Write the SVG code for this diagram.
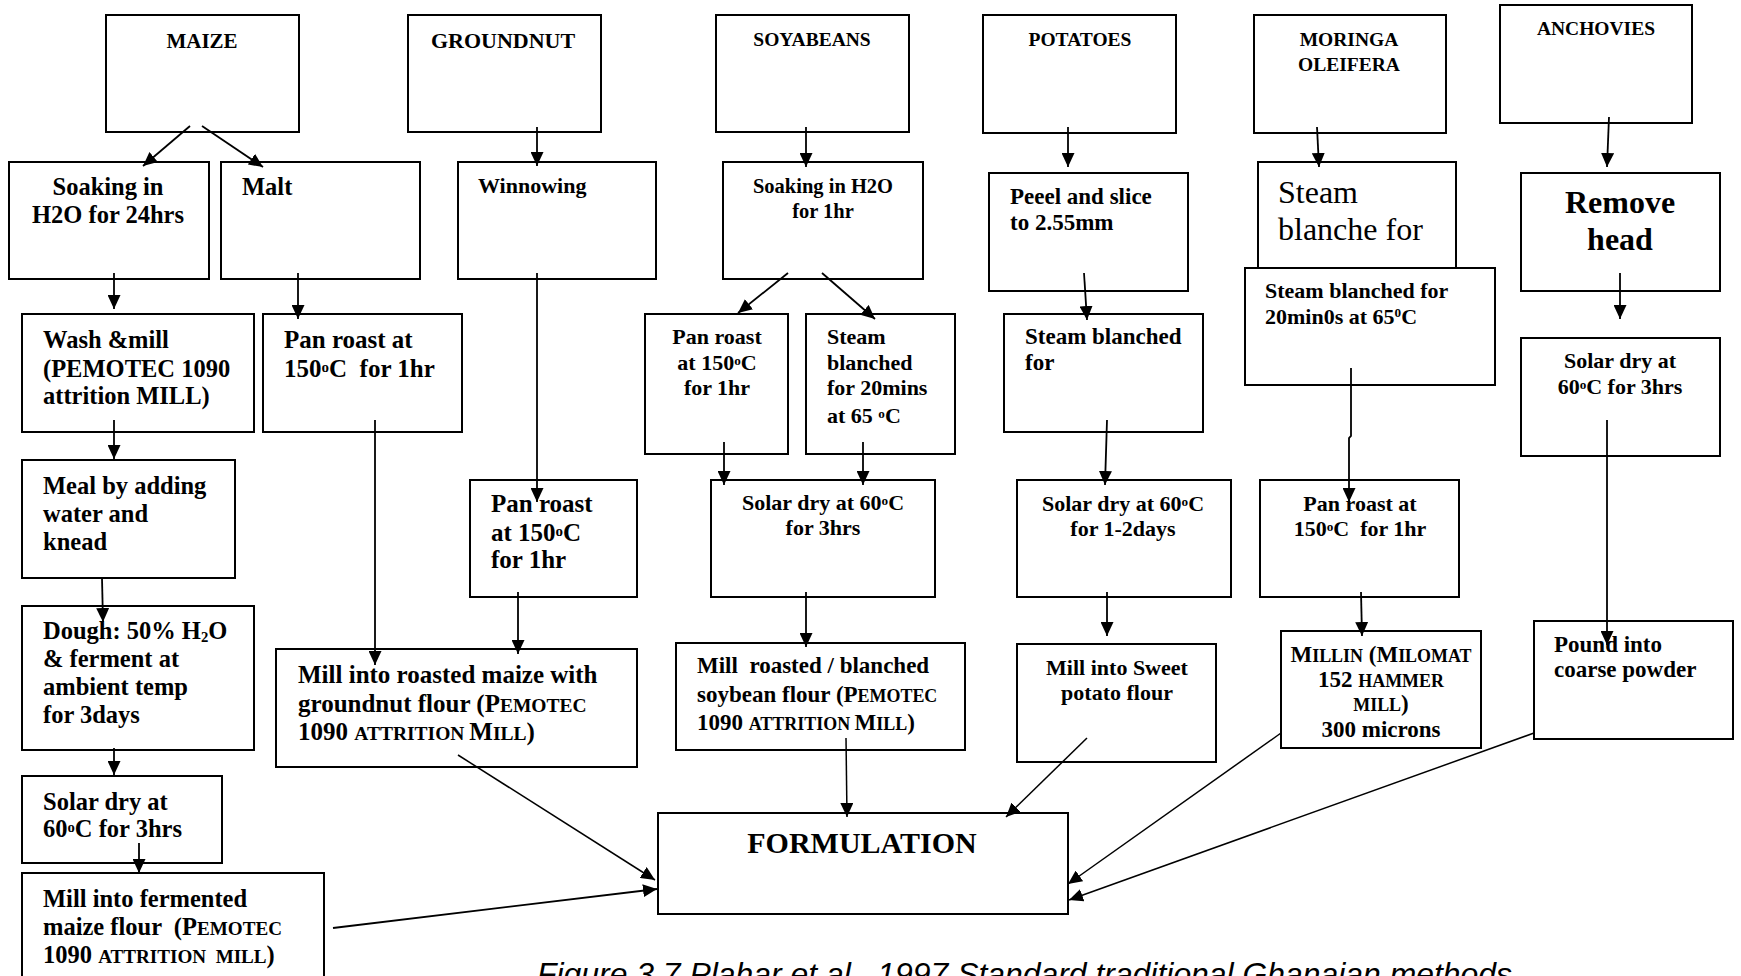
<svg xmlns="http://www.w3.org/2000/svg" width="1741" height="976" viewBox="0 0 1741 976">
  <style>
    .b { fill: #fff; stroke: #000; stroke-width: 2; }
    text { font-family: "Liberation Serif", "DejaVu Serif", serif; font-weight: bold; fill: #000; }
    .c { text-anchor: middle; }
    .r { font-weight: normal; }
    .s19 { font-size: 19.5px; }
    .s20 { font-size: 20.5px; }
    .s21 { font-size: 21px; }
    .s22 { font-size: 22px; }
    .s23 { font-size: 23px; }
    .s24 { font-size: 24.5px; }
    .s25 { font-size: 25px; }
    .s30 { font-size: 30px; }
    .s32 { font-size: 32px; }
    .sup { font-size: 0.6em; }
    .sc { font-size: 0.78em; }
    .cap { font-family: "Liberation Sans", Arial, sans-serif; font-weight: normal; font-style: italic; font-size: 32px; }
    #connectors line, #connectors polyline { stroke: #000; stroke-width: 1.8; fill: none; marker-end: url(#ah); }
  </style>
  <defs>
    <marker id="ah" viewBox="0 0 14 13" refX="14" refY="6.5" markerWidth="14" markerHeight="13" markerUnits="userSpaceOnUse" orient="auto">
      <path d="M0,0 L14,6.5 L0,13 z" fill="#000"/>
    </marker>
  </defs>

  <rect width="1741" height="976" fill="#fff"/>

  <!-- Maize chain -->
  <g id="maize">
    <rect class="b" x="106" y="15" width="193" height="117"/>
    <text class="s21 c" x="202" y="48">MAIZE</text>
  </g>
  <g id="maize-soak">
    <rect class="b" x="9" y="162" width="200" height="117"/>
    <text class="s24 c" x="108" y="195">Soaking in</text>
    <text class="s24 c" x="108" y="223">H2O for 24hrs</text>
  </g>
  <g id="maize-malt">
    <rect class="b" x="221" y="162" width="199" height="117"/>
    <text class="s24" x="242" y="195">Malt</text>
  </g>
  <g id="maize-wash">
    <rect class="b" x="22" y="314" width="232" height="118"/>
    <text class="s24" x="43" y="348">Wash &amp;mill</text>
    <text class="s24" x="43" y="377">(PEMOTEC 1090</text>
    <text class="s24" x="43" y="404">attrition MILL)</text>
  </g>
  <g id="maize-roast">
    <rect class="b" x="263" y="314" width="199" height="118"/>
    <text class="s25" x="284" y="348">Pan roast at</text>
    <text class="s25" x="284" y="377" xml:space="preserve">150<tspan class="sup" dy="-5">o</tspan><tspan dy="5">C  for 1hr</tspan></text>
  </g>
  <g id="maize-meal">
    <rect class="b" x="22" y="460" width="213" height="118"/>
    <text class="s24" x="43" y="494">Meal by adding</text>
    <text class="s24" x="43" y="522">water and</text>
    <text class="s24" x="43" y="550">knead</text>
  </g>
  <g id="maize-dough">
    <rect class="b" x="22" y="606" width="232" height="144"/>
    <text class="s24" x="43" y="639">Dough: 50% H<tspan class="sup" dy="3">2</tspan><tspan dy="-3">O</tspan></text>
    <text class="s24" x="43" y="667">&amp; ferment at</text>
    <text class="s24" x="43" y="695">ambient temp</text>
    <text class="s24" x="43" y="723">for 3days</text>
  </g>
  <g id="maize-dry">
    <rect class="b" x="22" y="776" width="200" height="87"/>
    <text class="s24" x="43" y="810">Solar dry at</text>
    <text class="s24" x="43" y="837">60<tspan class="sup" dy="-5">o</tspan><tspan dy="5">C for 3hrs</tspan></text>
  </g>
  <g id="maize-fermented-mill">
    <rect class="b" x="22" y="873" width="302" height="120"/>
    <text class="s24" x="43" y="907">Mill into fermented</text>
    <text class="s24" x="43" y="935" xml:space="preserve">maize flour  (P<tspan class="sc">EMOTEC</tspan></text>
    <text class="s24" x="43" y="963" xml:space="preserve">1090 <tspan class="sc">ATTRITION  MILL</tspan>)</text>
  </g>

  <!-- Groundnut chain -->
  <g id="groundnut">
    <rect class="b" x="408" y="15" width="193" height="117"/>
    <text class="s22 c" x="503" y="48">GROUNDNUT</text>
  </g>
  <g id="groundnut-winnow">
    <rect class="b" x="458" y="162" width="198" height="117"/>
    <text class="s22" x="478" y="193">Winnowing</text>
  </g>
  <g id="groundnut-roast">
    <rect class="b" x="470" y="480" width="167" height="117"/>
    <text class="s25" x="491" y="512">Pan roast</text>
    <text class="s25" x="491" y="541">at 150<tspan class="sup" dy="-5">o</tspan><tspan dy="5">C</tspan></text>
    <text class="s25" x="491" y="568">for 1hr</text>
  </g>
  <g id="roasted-mill">
    <rect class="b" x="276" y="649" width="361" height="118"/>
    <text class="s25" x="298" y="683">Mill into roasted maize with</text>
    <text class="s25" x="298" y="712">groundnut flour (P<tspan class="sc">EMOTEC</tspan></text>
    <text class="s25" x="298" y="740">1090 <tspan class="sc">ATTRITION </tspan>M<tspan class="sc">ILL</tspan>)</text>
  </g>

  <!-- Soyabean chain -->
  <g id="soyabeans">
    <rect class="b" x="716" y="15" width="193" height="117"/>
    <text class="s19 c" x="812" y="46">SOYABEANS</text>
  </g>
  <g id="soy-soak">
    <rect class="b" x="723" y="162" width="200" height="117"/>
    <text class="s20 c" x="823" y="193">Soaking in H2O</text>
    <text class="s20 c" x="823" y="218">for 1hr</text>
  </g>
  <g id="soy-roast">
    <rect class="b" x="645" y="314" width="143" height="140"/>
    <text class="s22 c" x="717" y="344">Pan roast</text>
    <text class="s22 c" x="717" y="370">at 150<tspan class="sup" dy="-5">o</tspan><tspan dy="5">C</tspan></text>
    <text class="s22 c" x="717" y="395">for 1hr</text>
  </g>
  <g id="soy-steam">
    <rect class="b" x="806" y="314" width="149" height="140"/>
    <text class="s22" x="827" y="344">Steam</text>
    <text class="s22" x="827" y="370">blanched</text>
    <text class="s22" x="827" y="395">for 20mins</text>
    <text class="s22" x="827" y="423">at 65 <tspan class="sup" dy="-5">o</tspan><tspan dy="5">C</tspan></text>
  </g>
  <g id="soy-dry">
    <rect class="b" x="711" y="480" width="224" height="117"/>
    <text class="s22 c" x="823" y="510">Solar dry at 60<tspan class="sup" dy="-5">o</tspan><tspan dy="5">C</tspan></text>
    <text class="s22 c" x="823" y="535">for 3hrs</text>
  </g>
  <g id="soy-mill">
    <rect class="b" x="676" y="643" width="289" height="107"/>
    <text class="s23" x="697" y="673" xml:space="preserve">Mill  roasted / blanched</text>
    <text class="s23" x="697" y="702">soybean flour (P<tspan class="sc">EMOTEC</tspan></text>
    <text class="s23" x="697" y="730">1090 <tspan class="sc">ATTRITION </tspan>M<tspan class="sc">ILL</tspan>)</text>
  </g>

  <!-- Potato chain -->
  <g id="potatoes">
    <rect class="b" x="983" y="15" width="193" height="118"/>
    <text class="s19 c" x="1080" y="46">POTATOES</text>
  </g>
  <g id="potato-peel">
    <rect class="b" x="989" y="173" width="199" height="118"/>
    <text class="s23" x="1010" y="204">Peeel and slice</text>
    <text class="s23" x="1010" y="230">to 2.55mm</text>
  </g>
  <g id="potato-steam">
    <rect class="b" x="1004" y="314" width="199" height="118"/>
    <text class="s23" x="1025" y="344">Steam blanched</text>
    <text class="s23" x="1025" y="370">for</text>
  </g>
  <g id="potato-dry">
    <rect class="b" x="1017" y="480" width="214" height="117"/>
    <text class="s22 c" x="1123" y="511">Solar dry at 60<tspan class="sup" dy="-5">o</tspan><tspan dy="5">C</tspan></text>
    <text class="s22 c" x="1123" y="536">for 1-2days</text>
  </g>
  <g id="potato-mill">
    <rect class="b" x="1017" y="644" width="199" height="118"/>
    <text class="s22 c" x="1117" y="675">Mill into Sweet</text>
    <text class="s22 c" x="1117" y="700">potato flour</text>
  </g>

  <!-- Moringa chain -->
  <g id="moringa">
    <rect class="b" x="1254" y="15" width="192" height="118"/>
    <text class="s19 c" x="1349" y="46">MORINGA</text>
    <text class="s19 c" x="1349" y="71">OLEIFERA</text>
  </g>
  <g id="moringa-blanche">
    <rect class="b" x="1258" y="162" width="198" height="118"/>
    <text class="s32 r" x="1278" y="203">Steam</text>
    <text class="s32 r" x="1278" y="240">blanche for</text>
  </g>
  <g id="moringa-steam">
    <rect class="b" x="1245" y="268" width="250" height="117"/>
    <text class="s22" x="1265" y="298">Steam blanched for</text>
    <text class="s22" x="1265" y="324">20min0s at 65<tspan class="sup" dy="-7">0</tspan><tspan dy="7">C</tspan></text>
  </g>
  <g id="moringa-roast">
    <rect class="b" x="1260" y="480" width="199" height="117"/>
    <text class="s22 c" x="1360" y="511">Pan roast at</text>
    <text class="s22 c" x="1360" y="536" xml:space="preserve">150<tspan class="sup" dy="-5">o</tspan><tspan dy="5">C  for 1hr</tspan></text>
  </g>
  <g id="moringa-mill">
    <rect class="b" x="1281" y="631" width="200" height="117"/>
    <text class="s23 c" x="1381" y="662">M<tspan class="sc">ILLIN</tspan> (M<tspan class="sc">ILOMAT</tspan></text>
    <text class="s23 c" x="1381" y="687">152 <tspan class="sc">HAMMER</tspan></text>
    <text class="s23 c" x="1381" y="711"><tspan class="sc">MILL</tspan>)</text>
    <text class="s23 c" x="1381" y="737">300 microns</text>
  </g>

  <!-- Anchovy chain -->
  <g id="anchovies">
    <rect class="b" x="1500" y="5" width="192" height="118"/>
    <text class="s19 c" x="1596" y="35">ANCHOVIES</text>
  </g>
  <g id="anchovy-head">
    <rect class="b" x="1521" y="173" width="199" height="118"/>
    <text class="s32 c" x="1620" y="213">Remove</text>
    <text class="s32 c" x="1620" y="250">head</text>
  </g>
  <g id="anchovy-dry">
    <rect class="b" x="1521" y="338" width="199" height="118"/>
    <text class="s22 c" x="1620" y="368">Solar dry at</text>
    <text class="s22 c" x="1620" y="394">60<tspan class="sup" dy="-5">o</tspan><tspan dy="5">C for 3hrs</tspan></text>
  </g>
  <g id="anchovy-pound">
    <rect class="b" x="1534" y="621" width="199" height="118"/>
    <text class="s23" x="1554" y="652">Pound into</text>
    <text class="s23" x="1554" y="677">coarse powder</text>
  </g>

  <!-- Final blend -->
  <g id="formulation">
    <rect class="b" x="658" y="813" width="410" height="101"/>
    <text class="s30 c" x="862" y="853">FORMULATION</text>
  </g>

  <g id="connectors">
    <line x1="190" y1="126" x2="143" y2="166"/>
    <line x1="202" y1="126" x2="263" y2="167"/>
    <line x1="114" y1="273" x2="114" y2="309"/>
    <line x1="298" y1="273" x2="298" y2="319"/>
    <line x1="114" y1="420" x2="114" y2="459"/>
    <line x1="102" y1="578" x2="103" y2="622"/>
    <line x1="114" y1="748" x2="114" y2="775"/>
    <line x1="139" y1="843" x2="139" y2="873"/>
    <line x1="375" y1="420" x2="375" y2="665"/>
    <line x1="537" y1="127" x2="537" y2="166"/>
    <line x1="537" y1="273" x2="537" y2="502"/>
    <line x1="518" y1="592" x2="518" y2="654"/>
    <line x1="458" y1="755" x2="655" y2="880" style="stroke-width:1.5"/>
    <line x1="333" y1="928" x2="657" y2="889"/>
    <line x1="806" y1="127" x2="806" y2="167"/>
    <line x1="788" y1="273" x2="738" y2="313"/>
    <line x1="822" y1="273" x2="875" y2="319"/>
    <line x1="724" y1="442" x2="724" y2="485"/>
    <line x1="863" y1="442" x2="863" y2="485"/>
    <line x1="806" y1="592" x2="806" y2="647"/>
    <line x1="846" y1="738" x2="847" y2="817" style="stroke-width:1.5"/>
    <line x1="1068" y1="127" x2="1068" y2="167"/>
    <line x1="1084" y1="273" x2="1087" y2="320"/>
    <line x1="1107" y1="420" x2="1105" y2="485"/>
    <line x1="1107" y1="592" x2="1107" y2="636"/>
    <line x1="1087" y1="738" x2="1006" y2="817" style="stroke-width:1.5"/>
    <line x1="1317" y1="127" x2="1319" y2="167"/>
    <polyline points="1351,368 1351,436 1349,438 1349,502"/>
    <line x1="1361" y1="592" x2="1362" y2="636"/>
    <line x1="1281" y1="733" x2="1068" y2="884" style="stroke-width:1.5"/>
    <line x1="1609" y1="117" x2="1607" y2="167"/>
    <line x1="1620" y1="273" x2="1620" y2="319"/>
    <line x1="1607" y1="420" x2="1607" y2="645"/>
    <line x1="1534" y1="733" x2="1069" y2="900" style="stroke-width:1.5"/>
  </g>

  <text class="cap" x="537" y="985" textLength="975" lengthAdjust="spacingAndGlyphs">Figure 3.7 Plahar et al., 1997 Standard traditional Ghanaian methods</text>
</svg>
